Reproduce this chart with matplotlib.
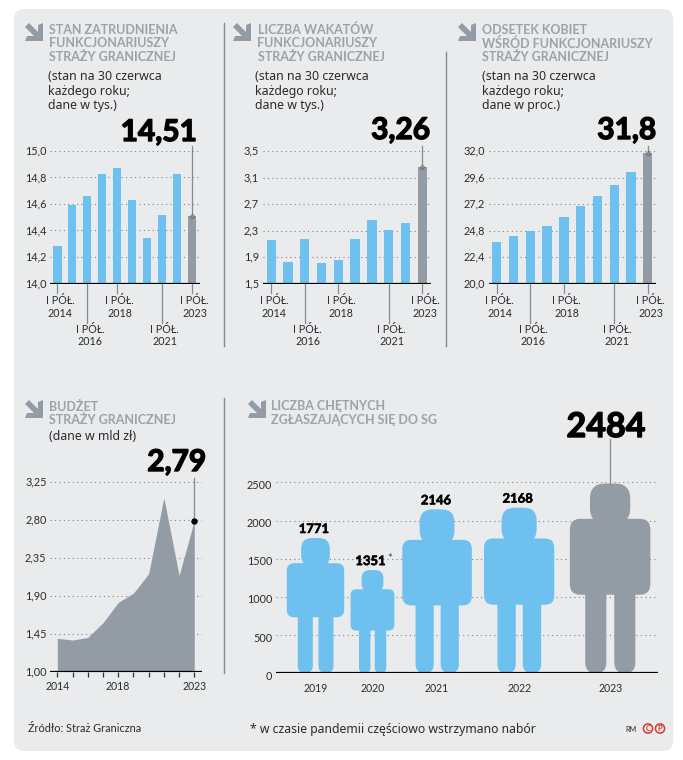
#!/usr/bin/env python3

""" Straz Graniczna infographic: four small charts and a pictogram """

import matplotlib
matplotlib.use('Agg')
import matplotlib.pyplot as plt
import matplotlib.patheffects as pe
from matplotlib.patches import Circle, FancyBboxPatch, Polygon

plt.rcParams['font.family'] = ['Lato', 'DejaVu Sans']

WIDTH, HEIGHT = 683, 760
BLUE = '#6ec1ee'
GREY = '#939ca4'
TITLE = '#9aa3aa'
TEXT = '#2b2b2b'
PANEL = '#e9ebed'
RULE = '#858b90'
BODY = ['Noto Sans', 'DejaVu Sans']

halfYears = ['2014', '2016', '2018', '2021', '2023']
halfYearIdx = [0, 2, 4, 7, 9]

staff = [14.28, 14.59, 14.66, 14.83, 14.87, 14.63, 14.34, 14.52, 14.83, 14.51]
staffTicks = [14.0, 14.2, 14.4, 14.6, 14.8, 15.0]
vacancies = [2.155, 1.83, 2.165, 1.81, 1.85, 2.165, 2.46, 2.31, 2.42, 3.26]
vacancyTicks = [1.5, 1.9, 2.3, 2.7, 3.1, 3.5]
women = [23.75, 24.26, 24.75, 25.2, 26.05, 27.0, 27.95, 28.95, 30.1, 31.8]
womenTicks = [20.0, 22.4, 24.8, 27.2, 29.6, 32.0]

budgetYears = [2014, 2015, 2016, 2017, 2018, 2019, 2020, 2021, 2022, 2023]
budget = [1.395, 1.375, 1.405, 1.58, 1.82, 1.93, 2.16, 3.06, 2.14, 2.79]
budgetTicks = [1.00, 1.45, 1.90, 2.35, 2.80, 3.25]
budgetLabels = [2014, 2018, 2023]

applicantYears = ['2019', '2020', '2021', '2022', '2023']
applicants = [1771, 1351, 2146, 2168, 2484]
applicantTicks = [0, 500, 1000, 1500, 2000, 2500]


def comma(value, decimals):
    return f'{value:.{decimals}f}'.replace('.', ',')


def heavy(width):
    # Lato has no black cut here, so thicken the bold one
    return [pe.withStroke(linewidth=width, foreground='black')]


def pxAxes(fig, left, top, right, bottom):
    ax = fig.add_axes([left / WIDTH, 1 - bottom / HEIGHT,
                       (right - left) / WIDTH, (bottom - top) / HEIGHT])
    ax.patch.set_alpha(0)
    for spine in ax.spines.values():
        spine.set_visible(False)
    ax.tick_params(length=0, labelbottom=False, labelleft=False)
    return ax


def drawArrow(bg, x, y):
    # Icon pointing down and to the right, 18 px square
    points = [(0, 4), (4, 0), (13, 9), (13, 2), (18, 0), (18, 18),
              (0, 18), (2, 13), (9, 13)]
    bg.add_patch(Polygon([(x + a, y + b) for a, b in points], color=GREY, lw=0))


def drawHeader(bg, title, subtitle, x, y, titleX, subX, subY):
    drawArrow(bg, x, y)
    for n, line in enumerate(title):
        bg.text(titleX, y + 6.5 + n * 13.8, line, color=TITLE, fontsize=9.0,
                fontweight='bold', va='center')
    for n, line in enumerate(subtitle):
        bg.text(subX, subY + n * 14, line, color=TEXT, fontsize=8.9, va='center',
                family=BODY)


def drawGrid(ax, ticks, labelFormat, yOffset=0):
    ax.set_yticks(ticks)
    for tick in ticks[1:]:
        ax.axhline(tick, color='#7d8489', lw=0.8, ls=(0, (1, 3)), zorder=1)
    for tick in ticks:
        ax.annotate(labelFormat(tick), xy=(0, tick),
                    xycoords=ax.get_yaxis_transform(),
                    xytext=(-2.5, -yOffset * 0.72), textcoords='offset points',
                    ha='right', va='center', fontsize=7.8, color=TEXT,
                    annotation_clip=False)
    ax.axhline(ticks[0], color='black', lw=1.6, zorder=4)


def barPanel(fig, bg, box, values, ticks, decimals, xLim):
    left, top, right, bottom = box
    ax = pxAxes(fig, left, top, right, bottom)
    ax.set_xlim(*xLim)
    ax.set_ylim(ticks[0], ticks[-1])
    drawGrid(ax, ticks, lambda t: comma(t, decimals))
    colors = [BLUE] * (len(values) - 1) + [GREY]
    ax.bar(range(len(values)), values, width=0.56, color=colors, zorder=2,
           bottom=0)
    span = ticks[-1] - ticks[0]
    for n, (idx, year) in enumerate(zip(halfYearIdx, halfYears)):
        # Every second label hangs on a longer tick
        long = n % 2 == 1
        drop = 0.30 if long else 0.075
        ax.plot([idx, idx], [ticks[0], ticks[0] - drop * span], color=RULE,
                lw=0.9, clip_on=False, zorder=1)
        offset = -23.5 if not long else -52
        ax.annotate(f'I PÓŁ.\n{year}', xy=(idx, ticks[0]), xytext=(2, offset * 0.72),
                    textcoords='offset points', ha='center', va='center',
                    fontsize=7.7, color=TEXT, linespacing=1.12,
                    annotation_clip=False)
    last = len(values) - 1
    ax.plot([last, last], [values[-1], ticks[-1] + 0.04 * span], color=RULE,
            lw=0.9, clip_on=False, zorder=3)
    ax.plot(last, values[-1], 'o', ms=2.6, mfc='none', mec='#555555', mew=0.5,
            clip_on=False, zorder=5)


def drawPerson(ax, centre, height, color):
    # All body parts scale with the height of the figure
    parts = [(-0.106, 0.79, 0.212, 0.21, 0.08),
             (-0.212, 0.414, 0.424, 0.400, 0.055),
             (-0.131, 0.0, 0.111, 0.5, 0.0555),
             (0.022, 0.0, 0.111, 0.5, 0.0555)]
    for x, y, w, h, r in parts:
        r *= height
        ax.add_patch(FancyBboxPatch(
            (centre + x * height + r, y * height + r),
            w * height - 2 * r, h * height - 2 * r,
            boxstyle=f'round,pad={r},rounding_size={r}',
            fc=color, ec='none', zorder=2))


def main():
    fig = plt.figure(figsize=(WIDTH / 100, HEIGHT / 100), dpi=100, facecolor='white')
    bg = fig.add_axes([0, 0, 1, 1])
    bg.set_xlim(0, WIDTH)
    bg.set_ylim(HEIGHT, 0)
    bg.axis('off')
    bg.add_patch(FancyBboxPatch((24, 19), 639, 722,
                                boxstyle='round,pad=10,rounding_size=10',
                                fc=PANEL, ec='none'))

    # Separators
    bg.plot([223.5, 223.5], [23, 346], color=RULE, lw=1)
    bg.plot([445.5, 445.5], [52, 346], color=RULE, lw=1)
    bg.plot([223.5, 223.5], [398, 673], color=RULE, lw=1)

    subTys = ['(stan na 30 czerwca', 'każdego roku;', 'dane w tys.)']
    subProc = ['(stan na 30 czerwca', 'każdego roku;', 'dane w proc.)']
    drawHeader(bg, ['STAN ZATRUDNIENIA', 'FUNKCJONARIUSZY', 'STRAŻY GRANICZNEJ'],
               subTys, 25, 23, 49, 47.5, 77)
    drawHeader(bg, ['LICZBA WAKATÓW', 'FUNKCJONARIUSZY', 'STRAŻY GRANICZNEJ'],
               subTys, 233, 23, 257.5, 255, 77)
    drawHeader(bg, ['ODSETEK KOBIET', 'WŚRÓD FUNKCJONARIUSZY', 'STRAŻY GRANICZNEJ'],
               subProc, 458, 23, 482, 482.5, 77)
    drawHeader(bg, ['BUDŻET', 'STRAŻY GRANICZNEJ'], ['(dane w mld zł)'],
               25, 400, 49, 49, 437)
    drawHeader(bg, ['LICZBA CHĘTNYCH', 'ZGŁASZAJĄCYCH SIĘ DO SG'], [],
               248, 400, 271, 271, 437)

    barPanel(fig, bg, (50, 151, 200, 283.5), staff, staffTicks, 1, (-0.49, 9.55))
    barPanel(fig, bg, (262.5, 151, 430.5, 283.5), vacancies, vacancyTicks, 1, (-0.52, 9.49))
    barPanel(fig, bg, (488.5, 151, 655.5, 283.5), women, womenTicks, 1, (-0.49, 9.46))

    big = dict(color='black', fontsize=21.5, fontweight='bold', va='center',
               path_effects=heavy(1.0))
    bg.text(197, 132, comma(staff[-1], 2), ha='right', **big)
    bg.text(430, 130, comma(vacancies[-1], 2), ha='right', **big)
    bg.text(656, 130, comma(women[-1], 1), ha='right', **big)
    bg.text(206, 462, comma(budget[-1], 2), ha='right', **big)
    big['fontsize'] = 24.5
    bg.text(606, 427, str(applicants[-1]), ha='center', **big)

    # Budget area
    ax = pxAxes(fig, 50, 481.7, 202, 671.7)
    ax.set_xlim(2014 - 7.3 / 15.2, 2023 + 7.7 / 15.2)
    ax.set_ylim(budgetTicks[0], budgetTicks[-1])
    drawGrid(ax, budgetTicks, lambda t: comma(t, 2))
    ax.fill_between(budgetYears, budget, budgetTicks[0], color=GREY, lw=0, zorder=2)
    ax.set_xticks(budgetYears)
    ax.tick_params(axis='x', length=3.5, width=0.9, color='#333333')
    for year in budgetLabels:
        ax.annotate(str(year), xy=(year, budgetTicks[0]), xytext=(0, -15 * 0.72),
                    textcoords='offset points', ha='center', va='center',
                    fontsize=7.6, color=TEXT, annotation_clip=False)
    ax.plot([2023, 2023], [budget[-1], 3.29], color=RULE, lw=0.9, clip_on=False, zorder=3)
    ax.plot(2023, budget[-1], 'o', ms=3.6, color='black', clip_on=False, zorder=5)

    # Applicants pictogram; x runs in the same units as y so figures keep shape
    ax = pxAxes(fig, 275.7, 482.3, 658, 673.3)
    ax.set_ylim(0, applicantTicks[-1])
    ax.set_xlim(0, applicantTicks[-1] * (658 - 275.7) / (673.3 - 482.3))
    drawGrid(ax, applicantTicks, str, yOffset=3)
    centres = [521, 1267, 2112, 3186, 4377]
    labelShift = [-20, -26, -15, -20, 0]
    for n, (centre, value) in enumerate(zip(centres, applicants)):
        drawPerson(ax, centre, value, GREY if n == len(applicants) - 1 else BLUE)
        ax.annotate(applicantYears[n], xy=(centre, 0), xytext=(0, -15.5 * 0.72),
                    textcoords='offset points', ha='center', va='center',
                    fontsize=7.6, color=TEXT, annotation_clip=False)
        if n < len(applicants) - 1:
            ax.annotate(str(value), xy=(centre + labelShift[n], value),
                        xytext=(0, 9 * 0.72), textcoords='offset points',
                        ha='center', va='center', fontsize=9.4,
                        fontweight='bold', color='black', annotation_clip=False,
                        path_effects=heavy(0.4))
        if applicantYears[n] == '2020':
            # Footnote mark sits beside the number, smaller and lighter
            ax.annotate('*', xy=(centre, value), xytext=(17.5 * 0.72, 12 * 0.72),
                        textcoords='offset points', ha='center', va='center',
                        fontsize=8, color='#444444', annotation_clip=False)
    ax.plot([centres[-1], centres[-1]], [applicants[-1], 3070], color=RULE, lw=0.9,
            clip_on=False, zorder=3)

    # Footer
    bg.text(28, 729, 'Źródło: Straż Graniczna', fontsize=7.8, color=TEXT, va='center')
    bg.text(250, 729, '* w czasie pandemii częściowo wstrzymano nabór', fontsize=8.8,
            color=TEXT, va='center', family=BODY)
    bg.text(631.5, 729, 'RM', fontsize=5.2, color=TEXT, va='center', ha='center')
    for x, letter in [(648, 'C'), (660, 'P')]:
        bg.add_patch(Circle((x, 728.5), 4.6, fc='none', ec='#d63a2f', lw=1.1))
        bg.text(x, 728.5, letter, fontsize=5.5, color='#d63a2f', fontweight='bold',
                ha='center', va='center')

    fig.savefig('out.png', dpi=100)


if __name__ == '__main__':
    main()
